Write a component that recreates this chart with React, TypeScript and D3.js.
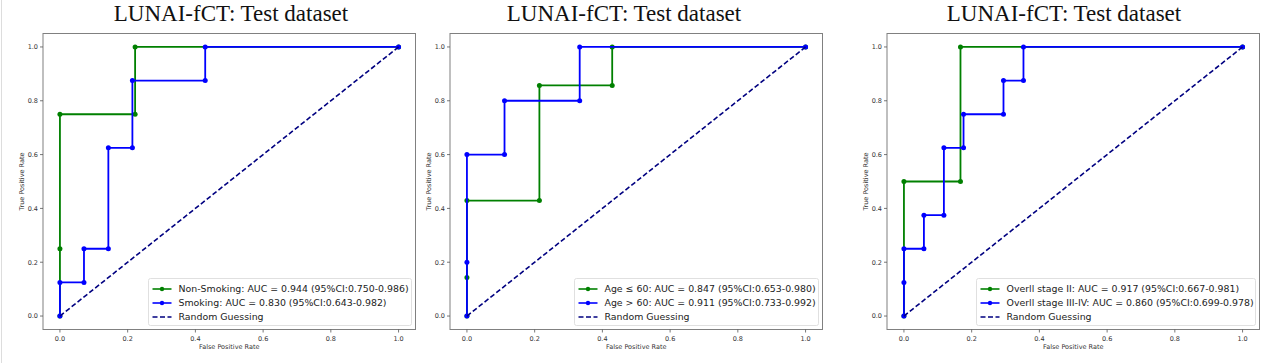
import React from "react";
import * as d3 from "d3";

// chart text
const chartTitle = "LUNAI-fCT: Test dataset";
const xLabel = "False Positive Rate";
const yLabel = "True Positive Rate";
const tickValues = [0, 0.2, 0.4, 0.6, 0.8, 1.0];

// panel 1: smoking status
const nonSmokingFpr = [0, 0, 0, 0.222, 0.222, 1];
const nonSmokingTpr = [0, 0.25, 0.75, 0.75, 1, 1];
const smokingFpr = [0, 0, 0.071, 0.071, 0.143, 0.143, 0.214, 0.214, 0.429, 0.429, 1];
const smokingTpr = [0, 0.125, 0.125, 0.25, 0.25, 0.625, 0.625, 0.875, 0.875, 1, 1];

// panel 2: age
const ageLowFpr = [0, 0, 0, 0.214, 0.214, 0.429, 0.429, 1];
const ageLowTpr = [0, 0.143, 0.429, 0.429, 0.857, 0.857, 1, 1];
const ageHighFpr = [0, 0, 0, 0.111, 0.111, 0.333, 0.333, 1];
const ageHighTpr = [0, 0.2, 0.6, 0.6, 0.8, 0.8, 1, 1];

// panel 3: overall stage
const stage2Fpr = [0, 0, 0.167, 0.167, 1];
const stage2Tpr = [0, 0.5, 0.5, 1, 1];
const stage34Fpr = [0, 0, 0, 0.059, 0.059, 0.118, 0.118, 0.176, 0.176, 0.294, 0.294, 0.353, 0.353, 1];
const stage34Tpr = [0, 0.125, 0.25, 0.25, 0.375, 0.375, 0.625, 0.625, 0.75, 0.75, 0.875, 0.875, 1, 1];

const randomLabel = "Random Guessing";

const panels = [
  {
    left: 43, titleX: 231, legendW: 263,
    series: [
      {label: "Non-Smoking: AUC = 0.944 (95%CI:0.750-0.986)", fpr: nonSmokingFpr, tpr: nonSmokingTpr, color: "#008000"},
      {label: "Smoking: AUC = 0.830 (95%CI:0.643-0.982)", fpr: smokingFpr, tpr: smokingTpr, color: "#0000ff"},
    ],
  },
  {
    left: 450, titleX: 624, legendW: 244,
    series: [
      {label: "Age \u2264 60: AUC = 0.847 (95%CI:0.653-0.980)", fpr: ageLowFpr, tpr: ageLowTpr, color: "#008000"},
      {label: "Age > 60: AUC = 0.911 (95%CI:0.733-0.992)", fpr: ageHighFpr, tpr: ageHighTpr, color: "#0000ff"},
    ],
  },
  {
    left: 887, titleX: 1064, legendW: 279,
    series: [
      {label: "Overll stage II: AUC = 0.917 (95%CI:0.667-0.981)", fpr: stage2Fpr, tpr: stage2Tpr, color: "#008000"},
      {label: "Overll stage III-IV: AUC = 0.860 (95%CI:0.699-0.978)", fpr: stage34Fpr, tpr: stage34Tpr, color: "#0000ff"},
    ],
  },
];

const frameW = 372.5;
const frameTop = 33.5;
const frameBottom = 329.5;
const font = "'DejaVu Sans', sans-serif";

const Panel = ({panel}) => {
  const x = d3.scaleLinear().domain([-0.05, 1.05]).range([panel.left, panel.left + frameW]);
  const y = d3.scaleLinear().domain([-0.05, 1.05]).range([frameBottom, frameTop]);
  const line = d3.line<[number, number]>().x(d => x(d[0])).y(d => y(d[1]));
  const fmt = d3.format(".1f");

  const lgRight = panel.left + frameW - 4;
  const lgLeft = lgRight - panel.legendW;
  const lgBottom = frameBottom - 4;
  const lgTop = lgBottom - 47;
  const rows = [...panel.series.map(s => ({label: s.label, color: s.color, dash: false})),
    {label: randomLabel, color: "#000080", dash: true}];

  return (
    <g>
      <text x={panel.titleX} y={21} textAnchor="middle" fontFamily="'Liberation Serif', 'Times New Roman', serif"
            fontSize={23} fill="#111">{chartTitle}</text>

      {panel.series.map((s, i) => {
        const pts = s.fpr.map((f, j) => [f, s.tpr[j]] as [number, number]);
        return (
          <g key={i}>
            <path d={line(pts) || ""} fill="none" stroke={s.color} strokeWidth={1.8}/>
            {pts.map((p, j) => <circle key={j} cx={x(p[0])} cy={y(p[1])} r={2.5} fill={s.color}/>)}
          </g>
        );
      })}
      <path d={line([[0, 0], [1, 1]]) || ""} fill="none" stroke="#000080" strokeWidth={1.6} strokeDasharray="5,2.5"/>

      <rect x={panel.left} y={frameTop} width={frameW} height={frameBottom - frameTop} fill="none" stroke="#808080" strokeWidth={1}/>

      {tickValues.map(t => (
        <g key={"x" + t}>
          <line x1={x(t)} x2={x(t)} y1={frameBottom} y2={frameBottom + 3} stroke="#555" strokeWidth={0.8}/>
          <text x={x(t)} y={frameBottom + 11} textAnchor="middle" fontFamily={font} fontSize={6.5} fill="#333">{fmt(t)}</text>
        </g>
      ))}
      {tickValues.map(t => (
        <g key={"y" + t}>
          <line x1={panel.left - 3} x2={panel.left} y1={y(t)} y2={y(t)} stroke="#555" strokeWidth={0.8}/>
          <text x={panel.left - 5} y={y(t) + 2.3} textAnchor="end" fontFamily={font} fontSize={6.5} fill="#333">{fmt(t)}</text>
        </g>
      ))}
      <text x={panel.left + frameW / 2} y={frameBottom + 19} textAnchor="middle" fontFamily={font} fontSize={6.5} fill="#333">{xLabel}</text>
      <text transform={`translate(${panel.left - 19},${(frameTop + frameBottom) / 2}) rotate(-90)`} textAnchor="middle"
            fontFamily={font} fontSize={6.5} fill="#333">{yLabel}</text>

      <rect x={lgLeft} y={lgTop} width={panel.legendW} height={lgBottom - lgTop} rx={2} fill="#fff" fillOpacity={0.85}
            stroke="#d8d8d8" strokeWidth={0.8}/>
      {rows.map((r, i) => {
        const ry = lgTop + 10.5 + i * 14;
        return (
          <g key={i}>
            <line x1={lgLeft + 4} x2={lgLeft + 23} y1={ry} y2={ry} stroke={r.color} strokeWidth={1.6}
                  strokeDasharray={r.dash ? "5,2.5" : undefined}/>
            {!r.dash && <circle cx={lgLeft + 13.5} cy={ry} r={2.2} fill={r.color}/>}
            <text x={lgLeft + 30} y={ry + 3.3} fontFamily={font} fontSize={9.4} fill="#222">{r.label}</text>
          </g>
        );
      })}
    </g>
  );
}

export default function App() {
  return (
    <svg width={1280} height={363} style={{display: "block", background: "#fff", position: "absolute", left: 0, top: 0}}>
      <line x1={1.5} x2={1.5} y1={0} y2={363} stroke="#ddd"/>
      {panels.map((p, i) => <Panel key={i} panel={p}/>)}
    </svg>
  );
}
